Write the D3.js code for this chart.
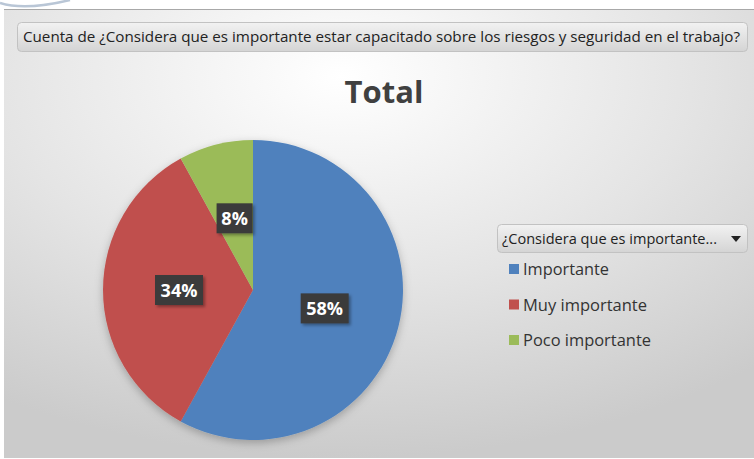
<!DOCTYPE html>
<html><head><meta charset="utf-8">
<script src="https://cdn.jsdelivr.net/npm/d3@7"></script>
<style>html,body{margin:0;padding:0;background:#fff;overflow:hidden}</style>
</head><body>
<svg id="c" width="754" height="459"></svg>
<script>
const categories = ["Importante", "Muy importante", "Poco importante"];
const values = [58, 34, 8];
const colors = ["#4F81BD", "#C0504D", "#9BBB59"];
const headerText = "Cuenta de ¿Considera que es importante estar capacitado sobre los riesgos y seguridad en el trabajo?";
const chartTitle = "Total";
const legendTitle = "¿Considera que es importante...";

const svg = d3.select("#c");
const defs = svg.append("defs");
const bg = defs.append("radialGradient").attr("id","bg").attr("cx","0.45").attr("cy","0.15").attr("r","0.85");
bg.append("stop").attr("offset","0").attr("stop-color","#ffffff");
bg.append("stop").attr("offset","0.55").attr("stop-color","#e4e4e4");
bg.append("stop").attr("offset","1").attr("stop-color","#cbcbcb");
const btn = defs.append("linearGradient").attr("id","btn").attr("x1",0).attr("y1",0).attr("x2",0).attr("y2",1);
btn.append("stop").attr("offset","0").attr("stop-color","#f2f2f2");
btn.append("stop").attr("offset","1").attr("stop-color","#d4d4d4");
const sh = defs.append("filter").attr("id","sh").attr("x","-20%").attr("y","-20%").attr("width","140%").attr("height","140%");
sh.append("feDropShadow").attr("dx",0).attr("dy",3).attr("stdDeviation",4).attr("flood-color","#000").attr("flood-opacity",0.25);
const lsh = defs.append("filter").attr("id","lsh").attr("x","-30%").attr("y","-30%").attr("width","160%").attr("height","160%");
lsh.append("feDropShadow").attr("dx",2).attr("dy",2).attr("stdDeviation",1.5).attr("flood-color","#000").attr("flood-opacity",0.35);

// swoosh decoration at top-left
svg.append("path").attr("d","M0,3 Q25,11 70,0").attr("fill","none").attr("stroke","#b9c6d6").attr("stroke-width",2.5);

// panel
svg.append("rect").attr("x",4).attr("y",9).attr("width",750).attr("height",449).attr("fill","url(#bg)");
svg.append("line").attr("x1",4).attr("x2",754).attr("y1",9.5).attr("y2",9.5).attr("stroke","#a8a8a8");

// header button
svg.append("rect").attr("x",17.5).attr("y",22.5).attr("width",730).attr("height",29).attr("rx",4)
  .attr("fill","url(#btn)").attr("stroke","#c2c2c2");
svg.append("text").attr("x",23).attr("y",42).attr("font-family","Open Sans, sans-serif").attr("font-size",14.5)
  .attr("fill","#222").attr("textLength",717).attr("lengthAdjust","spacingAndGlyphs").text(headerText);

// title
svg.append("text").attr("x",384).attr("y",103).attr("text-anchor","middle").attr("font-family","Open Sans, sans-serif")
  .attr("font-weight","bold").attr("font-size",31).attr("fill","#404040").text(chartTitle);

// pie
const cx = 253, cy = 290, R = 150;
const pie = d3.pie().sort(null).value(d => d)(values);
const arc = d3.arc().innerRadius(0).outerRadius(R);
const labelArc = d3.arc().innerRadius(74).outerRadius(74);
const g = svg.append("g").attr("transform",`translate(${cx},${cy})`);
g.append("g").attr("filter","url(#sh)").selectAll("path").data(pie).join("path")
  .attr("d",arc).attr("fill",(d,i)=>colors[i]);

const lbl = g.selectAll("g.lbl").data(pie).join("g").attr("class","lbl")
  .attr("transform",d=>`translate(${labelArc.centroid(d)})`);
lbl.each(function(d,i){
  const s = d3.select(this);
  const t = values[i] + "%";
  const w = t.length*12 + 12;
  s.append("rect").attr("x",-w/2).attr("y",-15).attr("width",w).attr("height",30)
    .attr("fill","#3a3a3a").attr("filter","url(#lsh)");
  s.append("text").attr("text-anchor","middle").attr("y",7).attr("font-family","Open Sans, sans-serif")
    .attr("font-weight","bold").attr("font-size",18).attr("fill","#fff").text(t);
});

// legend
svg.append("rect").attr("x",497.5).attr("y",224.5).attr("width",250).attr("height",28).attr("rx",4)
  .attr("fill","url(#btn)").attr("stroke","#c2c2c2");
svg.append("text").attr("x",502).attr("y",244).attr("font-family","Open Sans, sans-serif").attr("font-size",14.5)
  .attr("fill","#222").attr("textLength",215).attr("lengthAdjust","spacingAndGlyphs").text(legendTitle);
svg.append("path").attr("d","M731,236 L741,236 L736,242 Z").attr("fill","#222");
const ly = d3.scalePoint().domain(categories).range([269, 340]);
const li = svg.selectAll("g.li").data(categories).join("g").attr("class","li")
  .attr("transform",d=>`translate(509,${ly(d)})`);
li.append("rect").attr("x",0).attr("y",-5).attr("width",10).attr("height",10).attr("fill",(d,i)=>colors[i]);
li.append("text").attr("x",14).attr("y",6).attr("font-family","Open Sans, sans-serif").attr("font-size",16)
  .attr("fill","#333").attr("textLength",d=>({"Importante":86,"Muy importante":124,"Poco importante":128})[d])
  .attr("lengthAdjust","spacingAndGlyphs").text(d=>d);
</script>
</body></html>
